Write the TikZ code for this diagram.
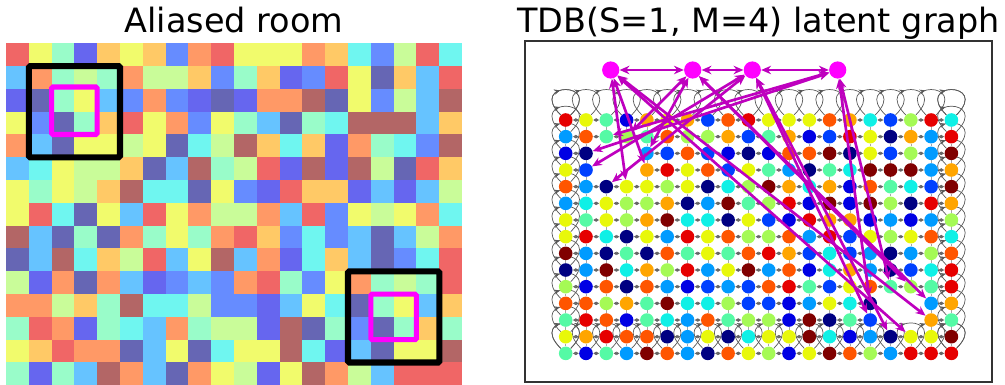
\documentclass[tikz,border=0pt]{standalone}
\usepackage{fontspec}
\setmainfont{DejaVu Sans}
\usetikzlibrary{arrows.meta,decorations.markings}
\pgfdeclarelayer{back}
\pgfsetlayers{back,main}

\definecolor{jR}{RGB}{230,0,0}
\definecolor{jY}{RGB}{232,248,10}
\definecolor{jM}{RGB}{85,250,165}
\definecolor{jB}{RGB}{0,0,228}
\definecolor{jL}{RGB}{255,165,0}
\definecolor{jO}{RGB}{255,85,0}
\definecolor{jb}{RGB}{0,64,255}
\definecolor{jc}{RGB}{0,155,255}
\definecolor{jC}{RGB}{15,240,230}
\definecolor{jG}{RGB}{165,250,85}
\definecolor{jN}{RGB}{0,0,130}
\definecolor{jW}{RGB}{128,0,0}
\definecolor{pmag}{RGB}{255,0,255}
\definecolor{amag}{RGB}{190,0,190}

\newcommand{\tile}[3]{\fill[fill=#3,fill opacity=.6] ({6+22.8*#2},{43.3+22.8*#1}) rectangle ++(22.8,22.8);}
\newcommand{\dotnode}[3]{\node[spot,fill=#3] (s-#1-#2) at ({565.7+20.3*#2},{120+16.67*#1}) {};}
\newcommand{\glink}[2]{\draw[hlink] (#1) -- (#2);}
\newcommand{\wall}[1]{\draw[wall] (#1.135) .. controls +(135:1.2cm) and +(45:1.2cm) .. (#1.45);}
\newcommand{\clink}[2]{\draw[alink] (#1) -- (#2);}

\tikzset{
  spot/.style={circle,inner sep=0pt,minimum size=0.34cm},
  clone/.style={circle,fill=pmag,inner sep=0pt,minimum size=0.43cm},
  hlink/.style={draw=black!60,line width=1.1pt,{Latex[length=2.2pt,width=2.8pt]}-{Latex[length=2.2pt,width=2.8pt]}},
  vlink/.style={draw=black!35,line width=.4pt},
  wall/.style={draw=black!65,line width=.5pt,postaction={decorate},
    decoration={markings,mark=at position .42 with {\arrow{Stealth[length=4pt,width=3.5pt]}}}},
  alink/.style={draw=amag,line width=1.9pt,{Stealth[length=7pt,width=6pt]}-{Stealth[length=7pt,width=6pt]}},
  title/.style={font=\fontsize{23.8}{28}\selectfont,anchor=base},
}

\begin{document}
\begin{tikzpicture}[x=0.025cm,y=-0.025cm,
  declare function={al(\x,\y)=and(or(equal(\x,2),equal(\x,3)),or(equal(\y,2),equal(\y,3)))+and(or(equal(\x,11),equal(\x,12)),or(equal(\y,16),equal(\y,17)));}]
    \useasboundingbox (0,0) rectangle (1005,385);
    \node[title] (lt) at (234,33) {Aliased room};
    \node[title] (rt) at (758.5,33) {TDB(S=1, M=4) latent graph};

    % room tiles and latent states
    \foreach \row [count=\i from 0] in {
      {R,Y,M,B,L,Y,L,b,O,R,Y,Y,Y,O,L,C,b,G,R,C},
      {c,O,M,G,M,O,G,G,L,b,M,L,B,b,R,Y,N,L,c,R},
      {B,N,M,Y,c,b,O,b,B,N,B,O,O,W,N,Y,b,G,c,W},
      {Y,b,N,M,L,R,Y,O,b,Y,M,c,N,M,C,W,W,W,c,L},
      {O,c,N,Y,Y,G,Y,N,C,G,W,L,C,L,B,O,M,C,b,W},
      {c,C,Y,G,G,L,N,c,W,M,G,R,B,W,B,W,G,N,R,L},
      {Y,M,Y,G,L,W,C,C,N,Y,b,B,R,L,L,B,c,B,c,G},
      {Y,R,C,N,Y,c,R,Y,O,G,G,O,c,R,b,Y,G,Y,O,C},
      {W,c,N,M,N,O,M,Y,M,O,R,L,b,C,b,c,N,c,G,O},
      {N,c,W,C,L,G,R,c,Y,W,c,O,B,C,L,c,N,b,C,R},
      {G,B,O,N,O,c,B,b,c,b,O,R,M,b,Y,O,M,G,M,R},
      {O,O,G,L,M,W,C,C,G,b,b,B,c,Y,C,N,M,Y,c,L},
      {M,R,O,B,M,C,c,O,M,G,G,B,W,N,M,b,N,M,L,M},
      {Y,L,R,O,O,N,c,Y,N,C,Y,Y,W,C,B,c,N,Y,Y,W},
      {M,B,M,c,W,O,c,N,O,Y,G,B,Y,W,O,G,c,R,R,R}}{
      \foreach \c [count=\j from 0] in \row {
        \tile{\i}{\j}{j\c}
        \pgfmathtruncatemacro\isal{al(\i,\j)}
        \ifnum\isal=0 \dotnode{\i}{\j}{j\c}\fi
      }
    }

    % aliased patches
    \draw[line width=4.3pt,rounded corners=1pt] (28.8,66.1) rectangle (120,157.3);
    \draw[pmag,line width=3.6pt,rounded corners=1pt] (51.6,87) rectangle (97.2,134.5);
    \draw[line width=4.3pt,rounded corners=1pt] (348,271.3) rectangle (439.4,362.5);
    \draw[pmag,line width=3.6pt,rounded corners=1pt] (370.8,294.1) rectangle (416.4,339.7);

    \draw[black!80,line width=1.1pt] (525,41) rectangle (992,382);

    \node[clone] (C1) at (610.7,70) {};
    \node[clone] (C2) at (692.7,70) {};
    \node[clone] (C3) at (752.3,70) {};
    \node[clone] (C4) at (837.7,70) {};

    \begin{pgfonlayer}{back}
    \foreach \i in {0,...,14}{
      \foreach \j [evaluate=\j as \jj using int(\j+1)] in {0,...,18}{
        \pgfmathtruncatemacro\isal{al(\i,\j)+al(\i,\jj)}
        \ifnum\isal=0 \glink{s-\i-\j}{s-\i-\jj}\fi}}
    \foreach \i [evaluate=\i as \ii using int(\i+1)] in {0,...,13}{
      \foreach \j in {0,...,19}{
        \pgfmathtruncatemacro\isal{al(\i,\j)+al(\ii,\j)}
        \ifnum\isal=0 \draw[vlink] (s-\i-\j) -- (s-\ii-\j);\fi}}
    % walls loop back
    \foreach \j in {0,...,19}{\wall{s-0-\j}\wall{s-14-\j}}
    \foreach \i in {0,...,14}{\wall{s-\i-0}\wall{s-\i-19}}
    \end{pgfonlayer}

    % clone transitions
    \clink{C1}{C2}\clink{C2}{C3}\clink{C3}{C4}
    \clink{C4}{s-1-2}\clink{C4}{s-2-1}\clink{C2}{s-1-3}\clink{C2}{s-2-4}
    \clink{C3}{s-3-1}\clink{C3}{s-4-2}\clink{C1}{s-3-4}\clink{C1}{s-4-3}
    \clink{C4}{s-10-16}\clink{C4}{s-11-15}\clink{C2}{s-10-17}\clink{C2}{s-11-18}
    \clink{C3}{s-12-15}\clink{C3}{s-13-16}\clink{C1}{s-12-18}\clink{C1}{s-13-17}
\end{tikzpicture}
\end{document}
